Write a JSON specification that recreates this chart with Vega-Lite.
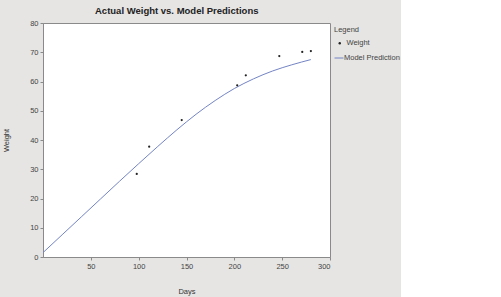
{
  "$schema": "https://vega.github.io/schema/vega-lite/v6.json",
  "autosize": {"type": "none"},
  "width": 287,
  "height": 234,
  "padding": {"left": 43, "top": 23, "right": 71, "bottom": 40},
  "background": "#e6e5e3",
  "title": {
    "text": "Actual Weight vs. Model Predictions",
    "anchor": "start",
    "frame": "group",
    "dx": 52,
    "offset": 4,
    "fontSize": 9.5,
    "fontWeight": "bold",
    "font": "Liberation Sans",
    "color": "#222"
  },
  "datasets": {
    "obs": [
      {"Days": 98, "Weight": 28.4, "series": "Weight"},
      {"Days": 111, "Weight": 37.7, "series": "Weight"},
      {"Days": 145, "Weight": 46.8, "series": "Weight"},
      {"Days": 203, "Weight": 58.7, "series": "Weight"},
      {"Days": 212, "Weight": 62.1, "series": "Weight"},
      {"Days": 247, "Weight": 68.7, "series": "Weight"},
      {"Days": 271, "Weight": 70.1, "series": "Weight"},
      {"Days": 280, "Weight": 70.4, "series": "Weight"}
    ],
    "model": [
      {"Days": 0, "Weight": 1.5, "series": "Model Prediction"},
      {"Days": 20, "Weight": 7.6, "series": "Model Prediction"},
      {"Days": 40, "Weight": 13.7, "series": "Model Prediction"},
      {"Days": 60, "Weight": 19.8, "series": "Model Prediction"},
      {"Days": 80, "Weight": 25.9, "series": "Model Prediction"},
      {"Days": 100, "Weight": 31.9, "series": "Model Prediction"},
      {"Days": 120, "Weight": 37.8, "series": "Model Prediction"},
      {"Days": 140, "Weight": 43.5, "series": "Model Prediction"},
      {"Days": 160, "Weight": 48.8, "series": "Model Prediction"},
      {"Days": 180, "Weight": 53.5, "series": "Model Prediction"},
      {"Days": 200, "Weight": 57.6, "series": "Model Prediction"},
      {"Days": 220, "Weight": 60.9, "series": "Model Prediction"},
      {"Days": 240, "Weight": 63.6, "series": "Model Prediction"},
      {"Days": 260, "Weight": 65.7, "series": "Model Prediction"},
      {"Days": 280, "Weight": 67.5, "series": "Model Prediction"}
    ]
  },
  "encoding": {
    "x": {
      "field": "Days",
      "type": "quantitative",
      "scale": {"domain": [0, 300], "nice": false},
      "axis": {"title": "Days", "values": [50, 100, 150, 200, 250, 300], "titlePadding": 18, "labelOverlap": false}
    },
    "y": {
      "field": "Weight",
      "type": "quantitative",
      "scale": {"domain": [0, 80], "nice": false},
      "axis": {"title": "Weight", "values": [0, 10, 20, 30, 40, 50, 60, 70, 80], "titlePadding": 19, "labelOverlap": false}
    }
  },
  "layer": [
    {
      "data": {"name": "model"},
      "mark": {"type": "line", "strokeWidth": 1, "interpolate": "monotone"},
      "encoding": {
        "stroke": {
          "field": "series",
          "type": "nominal",
          "scale": {"range": ["#7484c4"]},
          "legend": {"title": null, "symbolType": "stroke", "symbolSize": 81, "symbolStrokeWidth": 1, "labelOffset": 0, "orient": "none", "legendX": 291, "legendY": 30}
        }
      }
    },
    {
      "data": {"name": "obs"},
      "mark": {"type": "point", "filled": true, "size": 5, "opacity": 1},
      "encoding": {
        "shape": {
          "field": "series",
          "type": "nominal",
          "scale": {"range": ["circle"]},
          "legend": {"title": "Legend", "symbolSize": 6, "symbolFillColor": "#222", "symbolStrokeColor": "#222", "symbolOffset": 2, "labelOffset": 3, "orient": "none", "legendX": 291, "legendY": 3}
        },
        "color": {"value": "#222"}
      }
    }
  ],
  "resolve": {"legend": {"shape": "independent", "stroke": "independent"}},
  "config": {
    "font": "Liberation Sans",
    "view": {"fill": "white", "stroke": "#8a8a8a", "strokeWidth": 1},
    "axis": {
      "grid": false,
      "domainColor": "#8a8a8a",
      "tickColor": "#8a8a8a",
      "tickSize": 3,
      "labelFontSize": 7.5,
      "labelColor": "#444",
      "titleFontSize": 7.5,
      "titleFontWeight": "normal",
      "titleColor": "#333",
      "labelPadding": 2
    },
    "legend": {
      "labelFontSize": 7.5,
      "labelColor": "#444",
      "titleFontSize": 7.5,
      "titleFontWeight": "normal",
      "titleColor": "#444",
      "padding": 0,
      "titlePadding": 6,
      "rowPadding": 4
    }
  }
}
